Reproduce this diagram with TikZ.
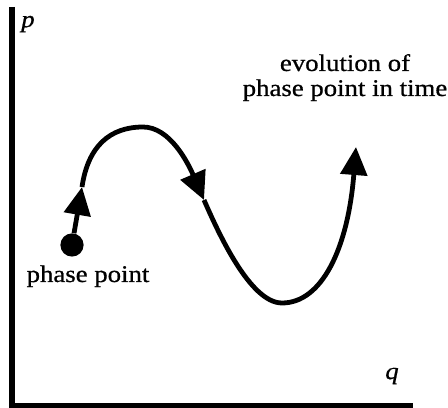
\documentclass[tikz,border=0pt]{standalone}
\usepackage{fontspec}
\setmainfont{Liberation Serif}[FakeStretch=1.12,FakeBold=0.8]
\usetikzlibrary{arrows.meta}

\begin{document}
\begin{tikzpicture}[x=0.025cm,y=0.025cm,>={Triangle[length=0.7cm,width=0.66cm]},line join=round,font=\fontsize{17}{17.8}\selectfont]
  \useasboundingbox (0,0) rectangle (448,408);
% ================= axes =================
  \draw[line width=3.6pt,line join=miter] (12,401) -- (12,2.5) -- (413,2.5);
  \node (plab) at (28,384) {\textit{p}};
  \node (qlab) at (392,32) {\textit{q}};
% ================= trajectory =================
  \coordinate (start)  at (82,221);
  \coordinate (crest)  at (143,281);
  \coordinate (mid)    at (204,208);
  \coordinate (trough) at (282,105);
  \coordinate (end)    at (356,261);
  \node[circle,fill,inner sep=0pt,minimum size=0.58cm] (dot) at (72,163) {};
  \draw[->,line width=3.4pt] (dot) -- (start);
  \draw[->,line width=3.4pt] (start) .. controls (88,262) and (110,281) .. (crest)
        .. controls (170,281) and (188,245) .. (mid);
  \draw[->,line width=3.4pt] (mid) .. controls (218,176) and (250,105) .. (trough)
        .. controls (322,105) and (348,160) .. (end);
  % labels
  \node[anchor=base] (ptlab) at (88,126) {phase point};
  \node[anchor=base,align=center] (evlab) at (345,312) {evolution of\\phase point in time};
\end{tikzpicture}
\end{document}
